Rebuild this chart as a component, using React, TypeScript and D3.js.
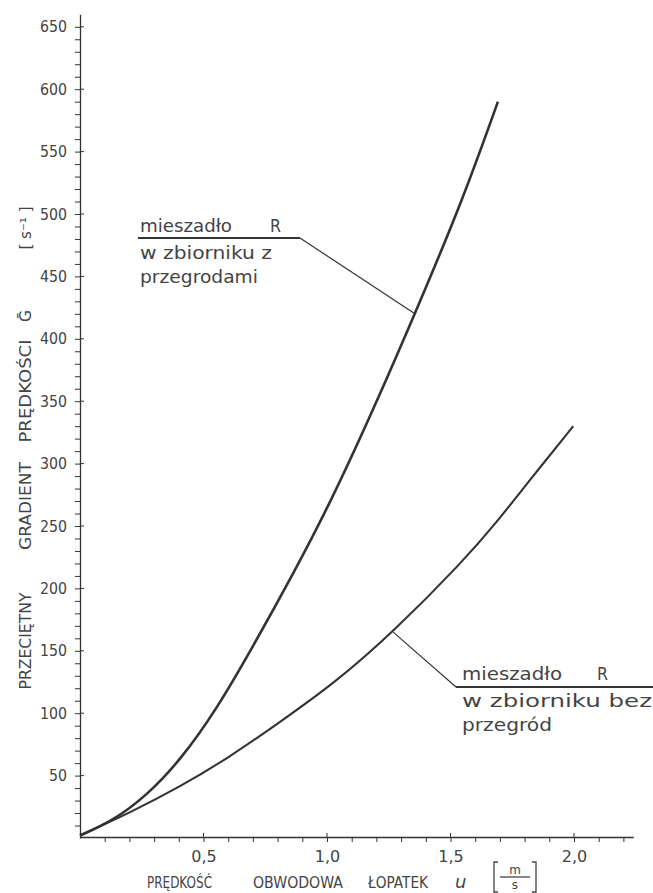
import React, { useEffect, useRef } from "react";
import * as d3 from "d3";

// curve readings (u in m/s, G in 1/s)
const uBaffled = [0, 0.135, 0.27, 0.405, 0.553, 0.702, 0.864, 1.012, 1.187, 1.356, 1.551, 1.692];
const gBaffled = [2, 14, 34, 62, 103, 154, 212, 268, 343, 420, 512, 590];

const uNoBaffle = [0, 0.2, 0.405, 0.607, 0.81, 1.03, 1.268, 1.552, 1.687, 1.822, 1.997];
const gNoBaffle = [2, 20, 41, 65, 93, 124, 165, 222, 253, 287, 330];

const xTicks = d3.range(1, 23).map(i => i / 10);
const xLabels = [0.5, 1.0, 1.5, 2.0];
const yTicks = d3.range(10, 660, 10);
const yLabels = d3.range(50, 700, 50);

const yTitleWords = ["PRZECIĘTNY", "GRADIENT", "PRĘDKOŚCI", "Ḡ", "[ s⁻¹ ]"];
const xTitleWords = ["PRĘDKOŚĆ", "OBWODOWA", "ŁOPATEK"];

const FONT = "'DejaVu Sans', sans-serif";
const INK = "#333";
const TXT = "#444";

export default function App() {
  const ref = useRef<SVGSVGElement>(null);

  useEffect(() => {
    const width = 653;
    const height = 893;
    const svg = d3.select(ref.current).attr("width", width).attr("height", height);
    svg.selectAll("*").remove();

    const x = d3.scaleLinear().domain([0, 2.24]).range([80, 80 + 2.24 * 247]);
    const y = d3.scaleLinear().domain([0, 660]).range([838, 838 - 660 * 1.248]);

    // Y axis
    const yAxis = svg.append("g")
      .attr("transform", `translate(${x(0)},0)`)
      .call(d3.axisLeft(y).tickValues(yTicks).tickSize(5).tickSizeOuter(0).tickPadding(8)
        .tickFormat((d: any) => (d % 50 === 0 ? String(d) : "")));
    yAxis.select(".domain").attr("stroke", INK).attr("stroke-width", 1.3);
    yAxis.selectAll("line").attr("stroke", INK);
    yAxis.selectAll("text").attr("font-family", FONT).attr("font-size", 16).attr("fill", TXT);
    yAxis.selectAll("text").filter((d: any) => d % 50 === 0)
      .attr("textLength", (d: any) => (d >= 100 ? 27 : 18))
      .attr("lengthAdjust", "spacingAndGlyphs");

    // X axis
    const xAxis = svg.append("g")
      .attr("transform", `translate(0,${y(0) - 1})`)
      .call(d3.axisBottom(x).tickValues(xTicks).tickSize(5).tickSizeOuter(0).tickPadding(9)
        .tickFormat((d: any) => (xLabels.some(v => Math.abs(v - d) < 1e-6) ? d3.format(".1f")(d).replace(".", ",") : "")));
    xAxis.select(".domain").attr("stroke", INK).attr("stroke-width", 1.3);
    xAxis.selectAll("line").attr("stroke", INK);
    xAxis.selectAll("text").attr("font-family", FONT).attr("font-size", 16).attr("fill", TXT);

    // cross marks on major ticks
    svg.append("g").selectAll("line").data(yLabels).enter().append("line")
      .attr("x1", x(0)).attr("x2", x(0) + 4)
      .attr("y1", d => y(d)).attr("y2", d => y(d))
      .attr("stroke", INK);
    svg.append("g").selectAll("line").data(xLabels).enter().append("line")
      .attr("x1", d => x(d)).attr("x2", d => x(d))
      .attr("y1", y(0) - 1).attr("y2", y(0) - 5)
      .attr("stroke", INK);

    // curves
    const line = d3.line<[number, number]>()
      .x(d => x(d[0]))
      .y(d => y(d[1]))
      .curve(d3.curveBasis);

    svg.append("path")
      .datum(uBaffled.map((u, i) => [u, gBaffled[i]] as [number, number]))
      .attr("d", line)
      .attr("fill", "none")
      .attr("stroke", INK)
      .attr("stroke-width", 2.6);

    svg.append("path")
      .datum(uNoBaffle.map((u, i) => [u, gNoBaffle[i]] as [number, number]))
      .attr("d", line)
      .attr("fill", "none")
      .attr("stroke", INK)
      .attr("stroke-width", 2.1);

    // Y title (rotated words)
    const yWordCenters = [641, 506, 391, 316, 228];
    const yWordLengths = [97, 88, 103, 12, 43];
    yTitleWords.forEach((w, i) => {
      svg.append("text")
        .attr("transform", `translate(31,${yWordCenters[i]}) rotate(-90)`)
        .attr("text-anchor", "middle")
        .attr("font-family", FONT)
        .attr("font-size", 16)
        .attr("fill", TXT)
        .attr("textLength", yWordLengths[i])
        .attr("lengthAdjust", "spacingAndGlyphs")
        .text(w);
    });

    // X title
    const xWordStarts = [147, 253, 368];
    const xWordLengths = [65, 90, 60];
    xTitleWords.forEach((w, i) => {
      svg.append("text")
        .attr("x", xWordStarts[i])
        .attr("y", 888)
        .attr("font-family", FONT)
        .attr("font-size", 16)
        .attr("fill", TXT)
        .attr("textLength", xWordLengths[i])
        .attr("lengthAdjust", "spacingAndGlyphs")
        .text(w);
    });
    svg.append("text")
      .attr("x", 455).attr("y", 888)
      .attr("font-family", FONT).attr("font-size", 18).attr("font-style", "italic")
      .attr("fill", TXT).text("u");
    // unit bracket [m/s]
    const unit = svg.append("g").attr("fill", "none").attr("stroke", TXT).attr("stroke-width", 1.3);
    unit.append("path").attr("d", "M498,862 L494,862 L494,892 L498,892");
    unit.append("path").attr("d", "M532,862 L536,862 L536,892 L532,892");
    unit.append("line").attr("x1", 500).attr("x2", 530).attr("y1", 877).attr("y2", 877);
    svg.append("text").attr("x", 515).attr("y", 874).attr("text-anchor", "middle")
      .attr("font-family", FONT).attr("font-size", 12).attr("fill", TXT).text("m");
    svg.append("text").attr("x", 515).attr("y", 889).attr("text-anchor", "middle")
      .attr("font-family", FONT).attr("font-size", 12).attr("fill", TXT).text("s");

    const label = (tx: number, ty: number, len: number, t: string) =>
      svg.append("text").attr("x", tx).attr("y", ty)
        .attr("font-family", FONT).attr("font-size", 17).attr("fill", TXT)
        .attr("textLength", len).attr("lengthAdjust", "spacingAndGlyphs")
        .text(t);

    // upper annotation: baffled tank
    svg.append("line").attr("x1", 138).attr("x2", 300).attr("y1", 238).attr("y2", 238)
      .attr("stroke", INK).attr("stroke-width", 1.8);
    svg.append("line").attr("x1", 300).attr("y1", 238).attr("x2", x(1.356)).attr("y2", y(420))
      .attr("stroke", INK).attr("stroke-width", 1.2);
    label(140, 232, 92, "mieszadło");
    label(270, 232, 11, "R");
    label(140, 259, 132, "w zbiorniku z");
    label(140, 283, 118, "przegrodami");

    // lower annotation: tank without baffles
    svg.append("line").attr("x1", 456).attr("x2", 653).attr("y1", 687).attr("y2", 687)
      .attr("stroke", INK).attr("stroke-width", 1.8);
    svg.append("line").attr("x1", 456).attr("y1", 687).attr("x2", x(1.268)).attr("y2", y(165))
      .attr("stroke", INK).attr("stroke-width", 1.2);
    label(462, 680, 100, "mieszadło");
    label(597, 680, 11, "R");
    label(462, 707, 190, "w zbiorniku bez");
    label(462, 731, 90, "przegród");
  }, []);

  return (
    <svg ref={ref} style={{ position: "absolute", left: 0, top: 0, background: "#fff" }}></svg>
  );
}
